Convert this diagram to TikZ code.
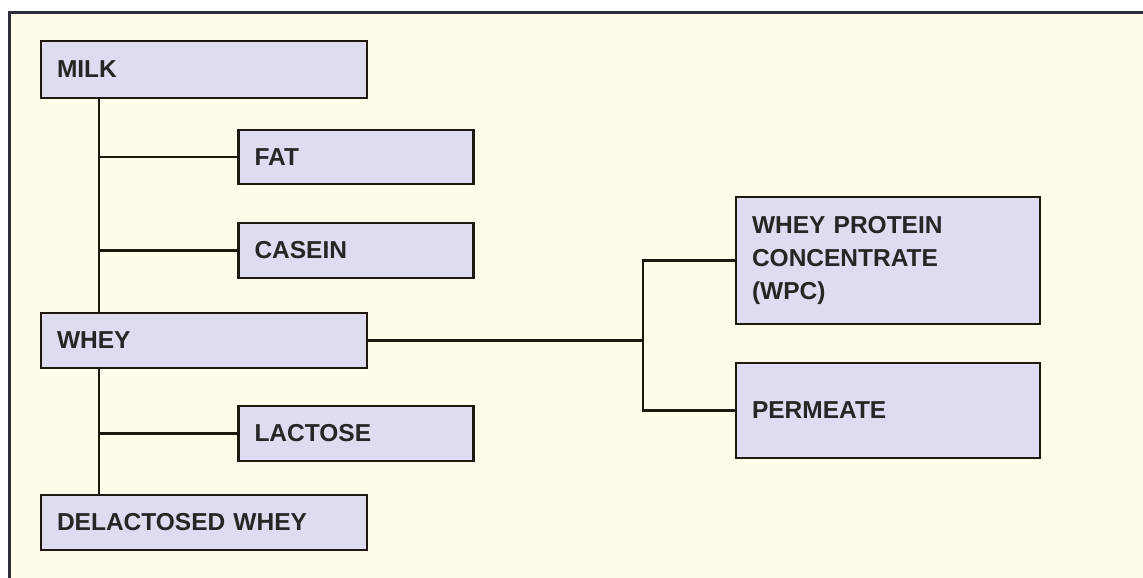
\documentclass[tikz,border=0pt]{standalone}
\usepackage{fontspec}
\setmainfont{Liberation Sans}
\definecolor{bgyellow}{RGB}{255,253,234}
\definecolor{boxfill}{RGB}{221,220,240}
\definecolor{framecol}{RGB}{45,45,60}
\definecolor{linecol}{RGB}{30,25,15}
\tikzset{
  box/.style={draw=linecol, line width=2.6pt, fill=boxfill, rectangle,
    inner xsep=16pt, inner ysep=0pt, align=left,
    font=\fontsize{24.5}{33}\selectfont\bfseries, text=black!85},
  conn/.style={draw=linecol, line width=2.6pt}
}
\begin{document}
\begin{tikzpicture}[x=1pt,y=-1pt]
\useasboundingbox (0,0) rectangle (1143,578);
\fill[white] (0,0) rectangle (1143,578);
\fill[bgyellow] (10,13) rectangle (1143,578);
\draw[framecol, line width=3pt] (9,12.5) -- (1143,12.5);
\draw[framecol, line width=3.5pt] (9.5,11) -- (9.5,578);
% nodes
\node[box, minimum width=326, minimum height=57, text width=294] (milk) at (204,69.5) {MILK};
\node[box, minimum width=235, minimum height=54, text width=203] (fat) at (356,157) {FAT};
\node[box, minimum width=235, minimum height=55, text width=203] (casein) at (356,250.5) {CASEIN};
\node[box, minimum width=326, minimum height=55, text width=294] (whey) at (204,340.5) {WHEY};
\node[box, minimum width=235, minimum height=55, text width=203] (lactose) at (356,433.5) {LACTOSE};
\node[box, minimum width=326, minimum height=55, text width=294] (dwhey) at (204,522.5) {DELACTOSED WHEY};
\node[box, minimum width=304, minimum height=127, text width=272] (wpc) at (888,260.5) {WHEY PROTEIN\\CONCENTRATE\\(WPC)};
\node[box, minimum width=304, minimum height=95, text width=272] (perm) at (888,410.5) {PERMEATE};
% trunk coordinates
\coordinate (t) at (99,0);
\coordinate (s) at (643,0);
\draw[conn] (t |- milk.south) -- (t |- whey.north);
\draw[conn] (t |- whey.south) -- (t |- dwhey.north);
\draw[conn] (t |- fat.west) -- (fat.west);
\draw[conn] (t |- casein.west) -- (casein.west);
\draw[conn] (t |- lactose.west) -- (lactose.west);
\draw[conn] (whey.east) -- (s |- whey.east);
\draw[conn] (wpc.west) -- (s |- wpc.west) -- (s |- perm.west) -- (perm.west);
\end{tikzpicture}
\end{document}
